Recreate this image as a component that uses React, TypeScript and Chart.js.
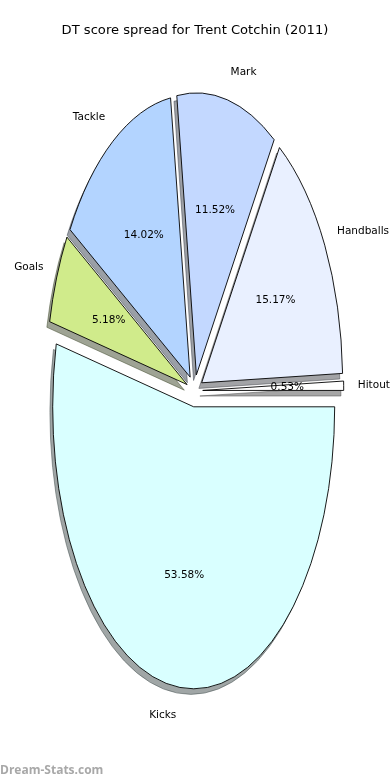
import React, { useEffect, useRef } from 'react';
import { Chart, registerables } from 'chart.js';

Chart.register(...registerables);

// Data (matplotlib order: counter-clockwise from 3 o'clock)
const categories = ['Hitout', 'Handballs', 'Mark', 'Tackle', 'Goals', 'Kicks'];
const percents = [0.53, 15.17, 11.52, 14.02, 5.18, 53.58];
const sliceColors = ['#ffffff', '#e9f0ff', '#c3d8ff', '#b3d4ff', '#d0eb8b', '#d9ffff'];
const titleText = 'DT score spread for Trent Cotchin (2011)';
const watermark = 'Dream-Stats.com';

// Chart.js draws clockwise, so reverse to mimic counter-clockwise layout
const chartLabels = [...categories].reverse();
const chartValues = [...percents].reverse();
const chartColors = [...sliceColors].reverse();

const W = 390;
const H = 780;
const CX = 194.6;
const CY = 390.7;
const SY = 2.0;
const RADIUS = 141;
const EXPL = 8.1;
const SHX = -2.8;
const SHY = 2.8;

function shadowOf(hex: string): string {
  const n = parseInt(hex.slice(1), 16);
  const r = Math.round(((n >> 16) & 255) * 0.3);
  const g = Math.round(((n >> 8) & 255) * 0.3);
  const b = Math.round((n & 255) * 0.3);
  return `rgba(${r},${g},${b},0.5)`;
}

const ellipsePie = {
  id: 'ellipsePie',
  beforeDatasetsDraw(chart: any) {
    const ctx: CanvasRenderingContext2D = chart.ctx;
    const arcs: any[] = chart.getDatasetMeta(0).data;
    const frame = (arc: any, dx: number, dy: number) => {
      ctx.translate(CX, CY);
      ctx.scale(1, SY);
      ctx.translate(-arc.x + dx, -arc.y + dy);
    };
    const tracePath = (arc: any, dx: number, dy: number) => {
      ctx.save();
      frame(arc, dx, dy);
      ctx.beginPath();
      ctx.moveTo(arc.x, arc.y);
      ctx.arc(arc.x, arc.y, arc.outerRadius, arc.startAngle, arc.endAngle);
      ctx.closePath();
      ctx.restore();
    };
    // shadows first
    arcs.forEach((arc: any) => {
      const mid = (arc.startAngle + arc.endAngle) / 2;
      const dx = Math.cos(mid) * EXPL + SHX;
      const dy = Math.sin(mid) * EXPL + SHY;
      const o = arc.options;
      const sc = shadowOf(o.backgroundColor);
      ctx.save();
      frame(arc, dx, dy);
      arc.options = { ...o, backgroundColor: sc };
      arc.draw(ctx);
      arc.options = o;
      ctx.restore();
      tracePath(arc, dx, dy);
      ctx.save();
      ctx.lineWidth = 1;
      ctx.strokeStyle = sc;
      ctx.stroke();
      ctx.restore();
    });
    // wedges
    arcs.forEach((arc: any) => {
      const mid = (arc.startAngle + arc.endAngle) / 2;
      const dx = Math.cos(mid) * EXPL;
      const dy = Math.sin(mid) * EXPL;
      ctx.save();
      frame(arc, dx, dy);
      arc.draw(ctx);
      ctx.restore();
      tracePath(arc, dx, dy);
      ctx.save();
      ctx.lineWidth = 0.9;
      ctx.lineJoin = 'miter';
      ctx.strokeStyle = '#000000';
      ctx.stroke();
      ctx.restore();
    });
    return false;
  },
  afterDraw(chart: any) {
    const ctx: CanvasRenderingContext2D = chart.ctx;
    const arcs: any[] = chart.getDatasetMeta(0).data;
    ctx.save();
    ctx.fillStyle = '#000000';
    ctx.textBaseline = 'middle';
    arcs.forEach((arc: any, i: number) => {
      const mid = (arc.startAngle + arc.endAngle) / 2;
      const c = Math.cos(mid);
      const s = Math.sin(mid);
      const dl = 1.1 * RADIUS + EXPL;
      ctx.font = '10.5px "DejaVu Sans"';
      ctx.textAlign = c > 0 ? 'left' : 'right';
      ctx.fillText(chartLabels[i], CX + c * dl, CY + SY * s * dl);
      const dp = 0.6 * RADIUS + EXPL;
      ctx.textAlign = 'center';
      ctx.fillText(chartValues[i].toFixed(2) + '%', CX + c * dp, CY + SY * s * dp);
    });
    ctx.font = '13.1px "DejaVu Sans"';
    ctx.textAlign = 'center';
    ctx.fillText(titleText, 195, 30.5);
    ctx.font = 'bold 12px "Open Sans"';
    ctx.fillStyle = '#a8a8a8';
    ctx.textAlign = 'left';
    ctx.fillText(watermark, 0, 770.5);
    ctx.restore();
  },
};

export default function App() {
  const ref = useRef<HTMLCanvasElement | null>(null);
  useEffect(() => {
    if (!ref.current) return;
    const chart = new Chart(ref.current, {
      type: 'pie',
      data: {
        labels: chartLabels,
        datasets: [
          {
            data: chartValues,
            backgroundColor: chartColors,
            borderWidth: 0,
          },
        ],
      },
      options: {
        responsive: false,
        animation: false,
        events: [],
        rotation: 90,
        radius: RADIUS,
        plugins: {
          legend: { display: false },
          title: { display: false },
          tooltip: { enabled: false },
        },
      },
      plugins: [ellipsePie],
    });
    return () => chart.destroy();
  }, []);
  return (
    <div style={{ position: 'absolute', left: 0, top: 0, width: W, height: H, background: '#fff' }}>
      <canvas ref={ref} width={W} height={H} style={{ display: 'block', width: W, height: H }} />
    </div>
  );
}
